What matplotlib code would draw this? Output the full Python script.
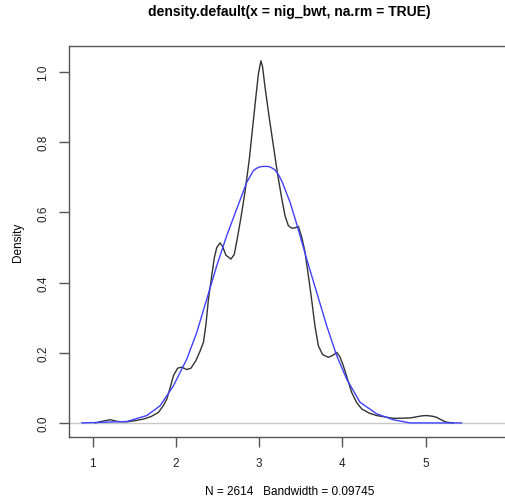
import matplotlib
matplotlib.use('Agg')
import matplotlib.pyplot as plt

plt.rcParams['font.family'] = ['Liberation Sans', 'DejaVu Sans']

# kernel density estimate (black)
kde_x = [1.03, 1.12, 1.21, 1.30, 1.40, 1.50, 1.61, 1.70, 1.79, 1.85, 1.89, 1.93,
         1.97, 2.02, 2.07, 2.13, 2.18, 2.24, 2.29, 2.33, 2.36, 2.39, 2.43, 2.46,
         2.49, 2.53, 2.56, 2.60, 2.66, 2.70, 2.74, 2.78, 2.83, 2.88, 2.92, 2.96,
         2.99, 3.02, 3.04, 3.07, 3.12, 3.17, 3.22, 3.27, 3.31, 3.35, 3.39, 3.43,
         3.47, 3.51, 3.55, 3.59, 3.63, 3.67, 3.71, 3.76, 3.83, 3.88, 3.93, 3.97,
         4.01, 4.06, 4.11, 4.17, 4.23, 4.32, 4.41, 4.61, 4.81, 4.95, 5.01, 5.08,
         5.13, 5.20, 5.25, 5.33]
kde_y = [0.000, 0.005, 0.009, 0.004, 0.003, 0.006, 0.011, 0.018, 0.030, 0.050, 0.068, 0.100,
         0.135, 0.156, 0.159, 0.152, 0.156, 0.178, 0.205, 0.230, 0.280, 0.353, 0.420, 0.470,
         0.500, 0.513, 0.503, 0.478, 0.467, 0.480, 0.530, 0.585, 0.660, 0.750, 0.840, 0.930,
         0.995, 1.032, 1.015, 0.956, 0.870, 0.790, 0.710, 0.640, 0.590, 0.562, 0.555, 0.556,
         0.560, 0.530, 0.487, 0.420, 0.350, 0.275, 0.220, 0.195, 0.187, 0.192, 0.201, 0.188,
         0.163, 0.125, 0.087, 0.058, 0.040, 0.028, 0.021, 0.013, 0.014, 0.020, 0.021, 0.019,
         0.016, 0.007, 0.002, 0.000]

# normal fit (blue)
norm_x = [0.87, 1.41, 1.65, 1.81, 1.97, 2.13, 2.25, 2.37, 2.49, 2.61, 2.73, 2.85,
          2.93, 2.97, 3.01, 3.05, 3.11, 3.15, 3.19, 3.23, 3.27, 3.37, 3.45, 3.57,
          3.69, 3.81, 3.93, 4.05, 4.21, 4.41, 4.61, 4.81, 5.43]
norm_y = [0.000, 0.004, 0.021, 0.049, 0.106, 0.182, 0.258, 0.353, 0.448, 0.534, 0.610, 0.686,
          0.719, 0.726, 0.730, 0.731, 0.731, 0.727, 0.721, 0.708, 0.690, 0.629, 0.567, 0.467,
          0.372, 0.277, 0.192, 0.125, 0.059, 0.026, 0.009, 0.000, 0.000]

x_ticks = [1, 2, 3, 4, 5]
y_ticks = [0.0, 0.2, 0.4, 0.6, 0.8, 1.0]

fig = plt.figure(figsize=(5.05, 5.02), dpi=100)
ax = fig.add_axes([0.1366, 0.1269, 0.873, 0.780])

ax.axhline(0, color='#c8c8c8', lw=1)
ax.plot(kde_x, kde_y, color='#333333', lw=1, solid_joinstyle='round')
ax.plot(norm_x, norm_y, color='#4040ff', lw=1, solid_joinstyle='round')

ax.set_xlim(0.715, 6.01)
ax.set_ylim(-0.041, 1.075)
ax.set_xticks(x_ticks)
ax.set_xticklabels([str(v) for v in x_ticks])
ax.set_yticks(y_ticks)
ax.set_yticklabels(['%.1f' % v for v in y_ticks], rotation=90, va='center')

for s in ax.spines.values():
    s.set_color('#555555')
    s.set_linewidth(1)
ax.spines['right'].set_visible(False)

ax.tick_params(direction='out', length=7, width=1, color='#555555',
               labelsize=8.5, labelcolor='#222222', pad=7)

ax.set_title('density.default(x = nig_bwt, na.rm = TRUE)', fontsize=10,
             fontweight='bold', pad=22)
ax.set_xlabel('N = 2614   Bandwidth = 0.09745', fontsize=8.5, labelpad=12)
ax.set_ylabel('Density', fontsize=8.5, labelpad=10)

fig.savefig('out.png', dpi=100)
